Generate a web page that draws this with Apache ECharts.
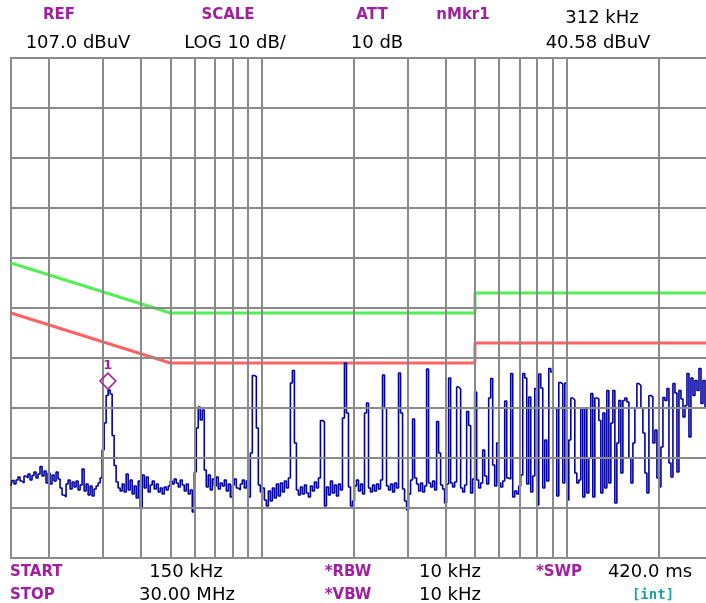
<!DOCTYPE html>
<html>
<head>
<meta charset="utf-8">
<script src="https://cdn.jsdelivr.net/npm/echarts/dist/echarts.min.js"></script>
<style>
  html,body{margin:0;padding:0;background:#fff;overflow:hidden;}
  /* the plot runs past the right edge of the window, as on the analyser screen */
  #chart{width:720px;height:603px;}
</style>
</head>
<body>
<div id="chart"></div>
<script>
// sweep span (MHz)
var startMHz = 0.15;
var stopMHz = 30;
// level axis (dBuV)
var refLevel = 107;
var bottomLevel = 7;
var gridLevels = [17, 27, 37, 47, 57, 67, 77, 87, 97];
var gridFreqs = [0.2, 0.3, 0.4, 0.5, 0.6, 0.7, 0.8, 0.9, 1, 2, 3, 4, 5, 6, 7, 8, 9, 10, 20];
// limit lines
var qpFreq = [0.15, 0.5, 5, 5, 30];
var qpLimit = [66, 56, 56, 60, 60];
var avFreq = [0.15, 0.5, 5, 5, 30];
var avLimit = [56, 46, 46, 50, 50];
// marker 1
var mkrFreq = 0.312;
var mkrLevel = 40.58;
// trace levels, one per sweep point (log spaced)
var traceLevel = [
  21.5, 22.5, 21.8, 22.6, 23.2, 22.4, 22.0, 23.4, 23.0, 23.8,
  22.6, 23.5, 24.2, 23.0, 23.8, 25.3, 23.4, 24.4, 22.0, 24.0,
  21.8, 23.6, 22.4, 24.2, 22.8, 21.0, 19.6, 19.2, 21.8, 22.6,
  20.8, 22.2, 21.2, 22.4, 20.6, 21.6, 24.8, 20.4, 21.8, 19.6,
  21.4, 19.4, 20.8, 21.4, 22.0, 23.0, 28.6, 34.0, 39.5, 40.58,
  39.8, 31.5, 25.5, 22.2, 21.0, 20.4, 21.8, 20.2, 23.8, 20.6,
  22.6, 19.8, 21.4, 19.0, 22.4, 17.0, 23.6, 21.0, 23.2, 20.2,
  21.6, 22.4, 20.8, 21.8, 20.2, 21.0, 19.8, 21.2, 20.6, 21.4,
  22.4, 21.8, 22.8, 22.0, 21.2, 22.6, 21.6, 20.4, 21.8, 19.8,
  20.6, 16.2, 24.2, 33.0, 37.2, 34.6, 36.6, 24.6, 21.2, 23.6,
  20.6, 22.8, 21.4, 23.2, 20.8, 22.0, 21.4, 22.6, 20.4, 21.8,
  19.2, 21.6, 22.8, 21.0, 20.6, 21.8, 22.6, 21.0, 22.4, 19.2,
  28.0, 43.5, 43.3, 33.0, 21.6, 20.2, 21.0, 18.6, 17.4, 20.4,
  18.4, 21.0, 19.0, 21.8, 19.4, 22.0, 20.2, 22.4, 21.0, 23.0,
  42.0, 44.5, 30.0, 20.6, 19.6, 21.2, 19.8, 21.6, 20.0, 19.2,
  21.4, 20.4, 22.2, 21.0, 23.0, 34.5, 34.2, 17.4, 21.2, 19.6,
  22.4, 20.0, 21.6, 19.4, 21.8, 20.6, 35.0, 46.0, 36.0, 21.2,
  17.4, 18.4, 21.4, 22.6, 20.4, 21.8, 19.8, 36.0, 38.0, 21.0,
  20.2, 21.6, 20.4, 21.8, 20.8, 22.6, 43.6, 37.0, 21.4, 20.6,
  21.8, 20.2, 22.0, 21.0, 44.0, 36.0, 20.8, 18.4, 16.6, 19.8,
  22.6, 34.8, 23.0, 21.8, 20.4, 22.0, 20.2, 21.4, 44.8, 22.0,
  21.2, 22.4, 20.6, 34.3, 28.0, 21.6, 20.8, 18.0, 21.8, 43.0,
  22.0, 21.2, 22.2, 41.2, 40.8, 21.0, 20.2, 21.6, 36.3, 33.5,
  20.0, 22.8, 40.2, 22.6, 21.0, 22.0, 28.6, 23.4, 21.8, 39.0,
  42.9, 25.6, 21.4, 30.0, 22.0, 21.2, 22.4, 38.4, 23.0, 22.8,
  43.9, 19.2, 20.4, 19.8, 21.4, 23.6, 43.9, 43.0, 21.8, 39.2,
  20.2, 23.4, 40.9, 17.6, 43.8, 41.0, 21.0, 30.6, 22.4, 44.9,
  44.2, 37.0, 36.8, 19.4, 42.1, 41.8, 22.0, 42.0, 18.6, 30.6,
  39.0, 38.6, 24.0, 22.0, 22.6, 37.0, 19.2, 37.0, 20.0, 27.0,
  39.9, 19.2, 39.0, 38.8, 34.5, 20.0, 36.0, 21.0, 40.5, 22.0,
  34.0, 40.5, 18.0, 30.0, 38.5, 24.0, 38.5, 39.0, 38.2, 27.0,
  22.0, 30.0, 37.0, 41.9, 41.5, 37.0, 32.0, 24.0, 20.0, 39.5,
  39.2, 30.0, 32.6, 23.0, 21.2, 29.2, 39.1, 38.5, 40.9, 26.0,
  23.2, 41.9, 40.0, 24.2, 40.5, 38.8, 35.2, 37.5, 43.9, 31.2,
  43.0, 39.5, 42.5, 40.5, 44.9, 37.9, 42.5, 37.0, 39.0, 38.0, 40.0
];

var purple = '#a0209f';
var gridGray = '#8a8a8a';

function pairs(xs, ys){
  var out = [];
  for(var i=0;i<xs.length;i++){
    out.push([xs[i], ys[i]]);
  }
  return out;
}

// sweep points are evenly spaced on the log frequency axis
var traceData = traceLevel.map(function(v, i){
  var f = startMHz * Math.pow(stopMHz/startMHz, i/(traceLevel.length-1));
  return [f, v];
});

var gridMarks = [];
gridFreqs.forEach(function(f){ gridMarks.push({xAxis: f}); });
gridLevels.forEach(function(v){ gridMarks.push({yAxis: v}); });

function label(text, x, y, kind, align){
  var font = '18px "DejaVu Sans"';
  var fill = '#000';
  if(kind=='tag'){ font = 'bold 15px "DejaVu Sans"'; fill = purple; }
  if(kind=='int'){ font = 'bold 14px "DejaVu Sans Mono"'; fill = '#1fa0a0'; }
  return {
    type: 'text', x: x, y: y, silent: true,
    style: {text: text, fill: fill, font: font, textAlign: align || 'center', textVerticalAlign: 'middle'}
  };
}

var chart = echarts.init(document.getElementById('chart'));
var option = {
  backgroundColor: '#fff',
  animation: false,
  grid: {
    left: 11, top: 58, width: 701, height: 500,
    show: true, borderColor: gridGray, borderWidth: 2, backgroundColor: '#fff'
  },
  xAxis: {
    type: 'log', logBase: 10, min: startMHz, max: stopMHz,
    axisLine: {show: false}, axisTick: {show: false},
    axisLabel: {show: false}, splitLine: {show: false}
  },
  yAxis: {
    type: 'value', min: bottomLevel, max: refLevel,
    axisLine: {show: false}, axisTick: {show: false},
    axisLabel: {show: false}, splitLine: {show: false}
  },
  series: [
    {
      name: 'grid', type: 'line', data: [], silent: true, z: 1,
      markLine: {
        silent: true, symbol: ['none', 'none'], animation: false,
        label: {show: false},
        lineStyle: {color: gridGray, width: 2, type: 'solid'},
        emphasis: {disabled: true},
        data: gridMarks
      }
    },
    {
      name: 'QP limit', type: 'line', data: pairs(qpFreq, qpLimit),
      showSymbol: false, symbol: 'none', z: 3,
      lineStyle: {color: '#55ee55', width: 3}
    },
    {
      name: 'AV limit', type: 'line', data: pairs(avFreq, avLimit),
      showSymbol: false, symbol: 'none', z: 3,
      lineStyle: {color: '#ff6262', width: 3}
    },
    {
      name: 'trace', type: 'line', data: traceData, step: 'middle',
      showSymbol: false, symbol: 'none', z: 4,
      lineStyle: {color: '#0000a0', width: 1.6},
      markPoint: {
        symbol: 'diamond', symbolSize: [16, 16], symbolOffset: [0, -9],
        itemStyle: {color: 'rgba(0,0,0,0)', borderColor: purple, borderWidth: 1.5},
        label: {show: true, position: 'top', distance: 0, formatter: '1',
                color: purple, fontWeight: 'bold', fontSize: 13, fontFamily: 'DejaVu Sans'},
        data: [{coord: [mkrFreq, mkrLevel]}]
      }
    }
  ],
  graphic: [
    label('REF', 59, 15, 'tag'),
    label('SCALE', 228, 15, 'tag'),
    label('ATT', 372, 15, 'tag'),
    label('nMkr1', 463, 15, 'tag'),
    label('312 kHz', 602, 18),
    label('107.0 dBuV', 78, 43),
    label('LOG 10 dB/', 235, 43),
    label('10 dB', 377, 43),
    label('40.58 dBuV', 598, 43),
    label('START', 10, 572, 'tag', 'left'),
    label('150 kHz', 186, 572),
    label('*RBW', 348, 572, 'tag'),
    label('10 kHz', 450, 572),
    label('*SWP', 559, 572, 'tag'),
    label('420.0 ms', 650, 572),
    label('STOP', 10, 595, 'tag', 'left'),
    label('30.00 MHz', 187, 595),
    label('*VBW', 348, 595, 'tag'),
    label('10 kHz', 450, 595),
    label('[int]', 653, 595, 'int')
  ]
};
chart.setOption(option);
</script>
</body>
</html>
